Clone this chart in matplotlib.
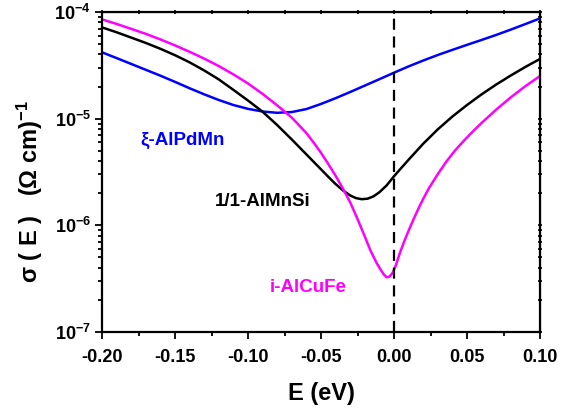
import numpy as np
import matplotlib
matplotlib.use("Agg")
import matplotlib.pyplot as plt
from matplotlib.ticker import LogLocator, MultipleLocator, NullFormatter, FuncFormatter

plt.rcParams["font.family"] = ["Liberation Sans", "DejaVu Sans"]
plt.rcParams["font.weight"] = "bold"
plt.rcParams["mathtext.fontset"] = "custom"
plt.rcParams["mathtext.rm"] = "Liberation Sans:bold"
plt.rcParams["mathtext.bf"] = "Liberation Sans:bold"
plt.rcParams["mathtext.it"] = "Liberation Sans:bold"

# ─── data (log10 of sigma) ────────────────────────────────────────────────────
E_alpdmn = [-0.200, -0.190, -0.180, -0.170, -0.160, -0.150, -0.140, -0.130,
            -0.120, -0.110, -0.100, -0.090, -0.080, -0.070, -0.060, -0.050,
            -0.040, -0.030, -0.020, -0.010, 0.000, 0.010, 0.020, 0.030,
            0.040, 0.050, 0.060, 0.070, 0.080, 0.090, 0.100]
logs_alpdmn = [-4.378, -4.432, -4.487, -4.542, -4.597, -4.655, -4.715, -4.772,
               -4.825, -4.872, -4.908, -4.933, -4.945, -4.938, -4.910, -4.862,
               -4.808, -4.750, -4.690, -4.630, -4.569, -4.510, -4.455, -4.403,
               -4.355, -4.308, -4.262, -4.215, -4.165, -4.113, -4.060]

E_almnsi = [-0.200, -0.190, -0.180, -0.170, -0.160, -0.150, -0.140, -0.130,
            -0.120, -0.110, -0.100, -0.090, -0.080, -0.070, -0.060, -0.050,
            -0.045, -0.040, -0.035, -0.030, -0.026, -0.022, -0.018, -0.014,
            -0.010, -0.005, 0.000, 0.005, 0.010, 0.020, 0.030, 0.040,
            0.050, 0.060, 0.070, 0.080, 0.090, 0.100]
logs_almnsi = [-4.144, -4.190, -4.240, -4.290, -4.345, -4.405, -4.472, -4.548,
               -4.632, -4.730, -4.830, -4.935, -5.060, -5.195, -5.335, -5.475,
               -5.545, -5.613, -5.672, -5.720, -5.745, -5.755, -5.750, -5.728,
               -5.690, -5.625, -5.540, -5.462, -5.385, -5.235, -5.100, -4.980,
               -4.872, -4.772, -4.680, -4.595, -4.515, -4.440]

E_alcufe = [-0.200, -0.190, -0.180, -0.170, -0.160, -0.150, -0.140, -0.130,
            -0.120, -0.110, -0.100, -0.090, -0.080, -0.070, -0.060, -0.055,
            -0.050, -0.045, -0.040, -0.035, -0.030, -0.025, -0.020, -0.016,
            -0.012, -0.009, -0.007, -0.005, -0.003, -0.001, 0.001, 0.004,
            0.007, 0.010, 0.013, 0.017, 0.020, 0.024, 0.030, 0.036,
            0.042, 0.048, 0.054, 0.060, 0.070, 0.080, 0.090, 0.100]
logs_alcufe = [-4.069, -4.112, -4.158, -4.205, -4.257, -4.313, -4.373, -4.437,
               -4.507, -4.585, -4.670, -4.768, -4.875, -4.990, -5.135, -5.225,
               -5.320, -5.425, -5.535, -5.655, -5.785, -5.940, -6.105, -6.240,
               -6.350, -6.420, -6.460, -6.487, -6.480, -6.445, -6.385, -6.260,
               -6.150, -6.050, -5.955, -5.835, -5.752, -5.650, -5.520, -5.400,
               -5.295, -5.205, -5.120, -5.040, -4.915, -4.800, -4.695, -4.600]

series = [
    (E_alpdmn, logs_alpdmn, "#0000ff"),
    (E_almnsi, logs_almnsi, "#000000"),
    (E_alcufe, logs_alcufe, "#ff00ff"),
]

labels = [
    ("\u03be-AlPdMn", -0.174, 10 ** -5.2, "#0000ff"),
    ("1/1-AlMnSi", -0.1226, 10 ** -5.78, "#000000"),
    ("i-AlCuFe", -0.085, 10 ** -6.58, "#ff00ff"),
]

# ─── figure ───────────────────────────────────────────────────────────────────
fig = plt.figure(figsize=(5.70, 4.09), dpi=100)
ax = fig.add_axes([102 / 570, 77 / 409, 438 / 570, 320 / 409])

for E, logs, col in series:
    ax.plot(E, 10 ** np.array(logs), color=col, linewidth=1.8,
            solid_joinstyle="round")

ax.axvline(0.0, color="black", linewidth=1.6, linestyle=(0, (5, 3)))

for txt, x, y, col in labels:
    ax.text(x, y, txt, color=col, fontsize=13.5, fontweight="bold",
            ha="left", va="center")

ax.set_yscale("log")
ax.set_xlim(-0.2, 0.1)
ax.set_ylim(1e-7, 1e-4)

ax.xaxis.set_major_locator(MultipleLocator(0.05))
ax.xaxis.set_minor_locator(MultipleLocator(0.025))
ax.xaxis.set_major_formatter(FuncFormatter(lambda v, p: f"{v:.2f}"))
ax.yaxis.set_major_locator(LogLocator(base=10, numticks=10))
ax.yaxis.set_minor_locator(LogLocator(base=10, subs=np.arange(2, 10), numticks=10))
ax.yaxis.set_minor_formatter(NullFormatter())
ax.yaxis.set_major_formatter(FuncFormatter(
    lambda v, p: r"$\mathbf{10^{%d}}$" % round(np.log10(v))))

for s in ax.spines.values():
    s.set_linewidth(1.6)

ax.tick_params(which="both", direction="out", width=1.3, labelsize=13,
               top=False, right=False)
ax.tick_params(which="major", length=5)
ax.tick_params(axis="x", which="major", pad=7)
ax.tick_params(axis="y", which="major", pad=3)
ax.tick_params(which="minor", length=3)

# small ticks on the top and right frames
ax2 = ax.secondary_xaxis("top")
ax2.xaxis.set_major_locator(MultipleLocator(0.05))
ax2.xaxis.set_minor_locator(MultipleLocator(0.025))
ax2.tick_params(which="both", direction="inout", width=1.2, length=3,
                labeltop=False)
ax3 = ax.secondary_yaxis("right")
ax3.set_yscale("log")
ax3.yaxis.set_major_locator(LogLocator(base=10, numticks=10))
ax3.yaxis.set_minor_locator(LogLocator(base=10, subs=np.arange(2, 10), numticks=10))
ax3.tick_params(which="both", direction="inout", width=1.2, length=3,
                labelright=False)
ax3.yaxis.set_minor_formatter(NullFormatter())
ax3.yaxis.set_major_formatter(NullFormatter())

for lab in ax.get_xticklabels() + ax.get_yticklabels():
    lab.set_fontweight("bold")

ax.set_xlabel("E (eV)", fontsize=17, fontweight="bold", labelpad=12)
ax.set_ylabel(r"σ ( E )   (Ω cm)$^{-1}$", fontsize=17, fontweight="bold")
ax.yaxis.set_label_coords(-0.13, 0.44)

fig.savefig("out.png", dpi=100)
